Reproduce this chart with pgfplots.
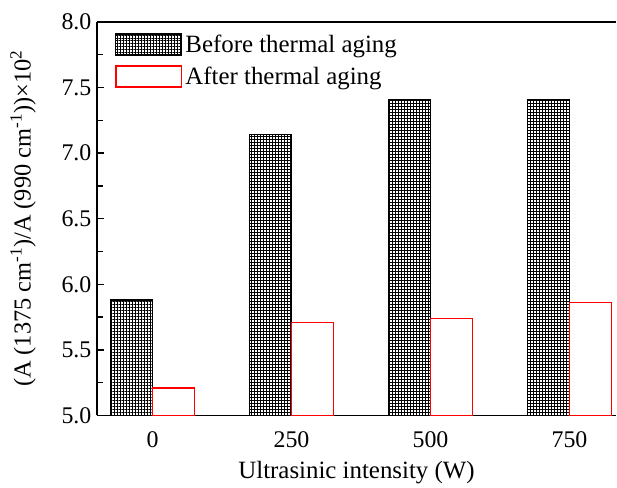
\documentclass[border=0pt]{standalone}
\usepackage{pgfplots}
\pgfplotsset{compat=1.18}
\usepackage{fontspec}
\setmainfont{Liberation Serif}
\usetikzlibrary{patterns,patterns.meta}
\begin{document}
\begin{tikzpicture}
\begin{axis}[
  scale only axis,
  width=520bp, height=394bp,
  xmin=-0.4, xmax=3.336,
  ymin=5, ymax=8,
  axis x line=box, axis y line=left,
  axis line style={-, line width=1.6pt},
  xtick={0,1,2,3},
  xticklabels={0,250,500,750},
  x tick style={draw=none},
  ytick={5,5.5,...,8},
  minor y tick num=1,
  tick align=inside,
  major tick length=7bp, minor tick length=6bp,
  y tick style={line width=1.4pt, black},
  /pgf/number format/assume math mode=true,
  /pgf/number format/fixed, /pgf/number format/fixed zerofill, /pgf/number format/precision=1,
  tick label style={font=\fontsize{24}{28}\selectfont},
  xticklabel style={anchor=north, yshift=-6bp},
  yticklabel style={xshift=-2bp},
  xlabel={Ultrasinic intensity (W)},
  ylabel={(A (1375 cm\textsuperscript{-1})/A (990 cm\textsuperscript{-1}))\texttimes10\textsuperscript{2}},
  every axis x label/.style={at={(axis description cs:0.5,-0.145)}, anchor=center, font=\fontsize{25}{29}\selectfont},
  every axis y label/.style={at={(axis description cs:-0.1423,0.5)}, anchor=center, rotate=90, font=\fontsize{24.5}{29}\selectfont},
  ybar, bar width=0.3,
  legend style={at={(0.035,0.975)}, anchor=north west, draw=none, fill=none,
    font=\fontsize{25}{29}\selectfont, row sep=7bp, inner sep=0pt,
    nodes={inner sep=3bp}},
  legend cell align=left,
  legend image code/.code={\draw[#1] (0bp,-10.5bp) rectangle (66bp,10.5bp);},
  clip=false,
  extra description/.code={
    \path (axis description cs:0,1) ++(-97bp,22bp);
    \path (axis description cs:1,0) ++(0,-70bp);
  },
]
\addplot[bar shift=-0.15, draw=black, line width=1.2pt, pattern={Hatch[angle=0, distance=3bp, line width=0.45pt]}, pattern color=black]
  coordinates {(0,5.88) (1,7.14) (2,7.41) (3,7.41)};
\addplot[bar shift=0.15, draw=red, line width=1.3pt, fill=white]
  coordinates {(0,5.21) (1,5.71) (2,5.74) (3,5.86)};
\legend{Before thermal aging, After thermal aging}
\end{axis}
\end{tikzpicture}
\end{document}
